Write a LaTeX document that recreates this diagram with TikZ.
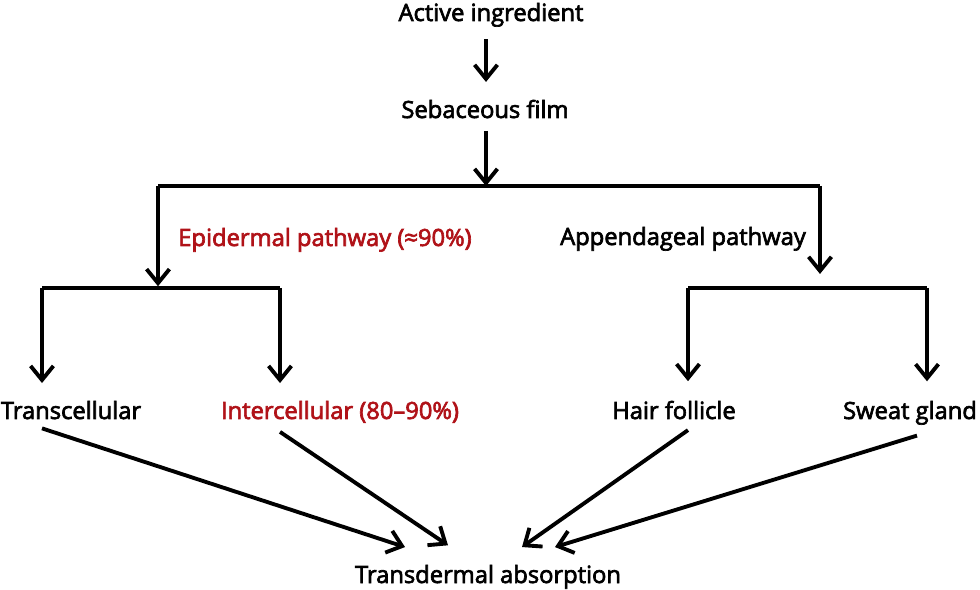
\documentclass[tikz,border=0pt]{standalone}
\usepackage{fontspec}
\setmainfont{Open Sans}[BoldFont={Open Sans}, BoldFeatures={FakeBold=2.8}]
\usetikzlibrary{arrows.meta}
\definecolor{pathred}{RGB}{176,18,24}
\tikzset{lbl/.style={font=\fontsize{13.5}{15}\selectfont\bfseries, inner sep=0pt, anchor=base}}
\tikzset{redlbl/.style={lbl, text=pathred}}
\tikzset{flow/.style={line width=2.2pt, -{Straight Barb[length=8pt, width=13pt, line width=2.2pt]}}}
\tikzset{bar/.style={line width=2.2pt}}

\begin{document}
\begin{tikzpicture}[x=0.02cm, y=-0.02cm]

    \useasboundingbox (0,0) rectangle (980,590);

    % top of the chain
    \node[lbl] (act) at (491,21) {Active ingredient};
    \node[lbl] (seb) at (485,118) {Sebaceous film};

    % first split
    \coordinate (split) at (486,186);
    \coordinate (epi) at (158,186);
    \coordinate (app) at (820,186);
    \node[redlbl] (epil) at (325,246) {Epidermal pathway (≈90\%)};
    \node[lbl] (appl) at (683,245) {Appendageal pathway};

    % second level
    \coordinate (epib) at (158,288);
    \coordinate (appb) at (820,288);
    \coordinate (tcb) at (42,288);
    \coordinate (icb) at (280,288);
    \coordinate (hfb) at (688,288);
    \coordinate (sgb) at (927,288);

    \node[lbl] (tc) at (71,419) {Transcellular};
    \node[redlbl] (ic) at (340,419) {Intercellular (80–90\%)};
    \node[lbl] (hf) at (674,419) {Hair follicle};
    \node[lbl] (sg) at (910,419) {Sweat gland};
    \node[lbl] (ta) at (488,583) {Transdermal absorption};

    \draw[flow] ([yshift=-7pt]act.south -| split) -- ([yshift=10pt]seb.north -| split);
    \draw[flow] ([yshift=-7pt]seb.south -| split) -- (split);
    \draw[bar] (epi) -- (app);
    \draw[flow] (epi) -- ([yshift=1pt]epib);
    \draw[flow] (app) -- ([yshift=8pt]appb);
    \draw[bar] (tcb) -- (icb);
    \draw[bar] (hfb) -- (sgb);
    \draw[flow] (tcb) -- ([yshift=10pt]tc.north -| tcb);
    \draw[flow] (icb) -- ([yshift=10pt]ic.north -| icb);
    \draw[flow] (hfb) -- ([yshift=11pt]hf.north -| hfb);
    \draw[flow] (sgb) -- ([yshift=11pt]sg.north -| sgb);

    % into the skin
    \draw[flow] ([yshift=-5pt]tc.south -| tcb) -- ([xshift=-1.66cm,yshift=10pt]ta.north);
    \draw[flow] ([yshift=-5pt]ic.south -| icb) -- ([xshift=-0.8cm,yshift=11pt]ta.north);
    \draw[flow] ([yshift=-6pt]hf.south -| hfb) -- ([xshift=0.68cm,yshift=10pt]ta.north);
    \draw[flow] ([xshift=-0.2cm,yshift=-6pt]sg.south -| sgb) -- ([xshift=1.34cm,yshift=10pt]ta.north);

\end{tikzpicture}
\end{document}
